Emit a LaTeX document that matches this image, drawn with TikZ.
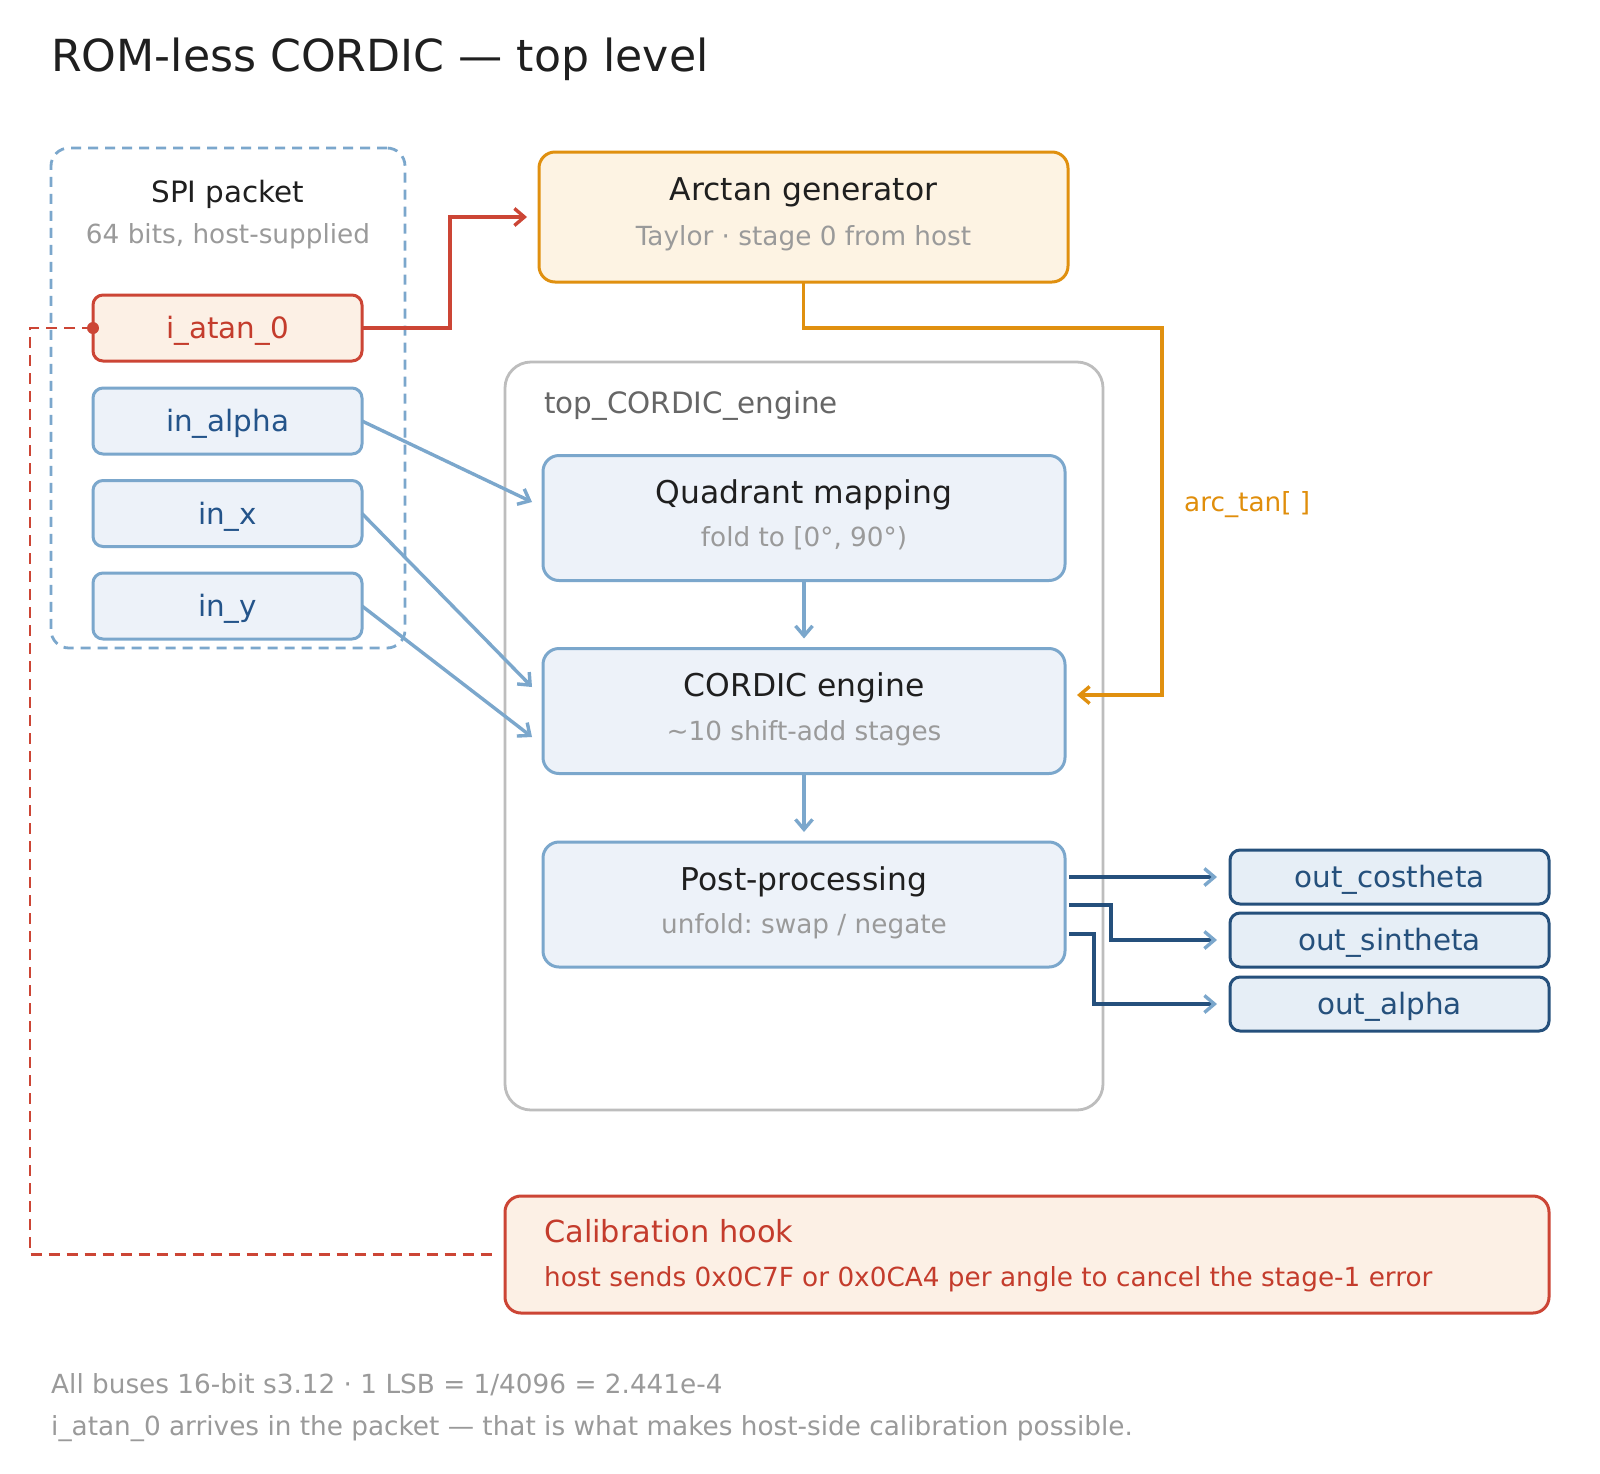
\documentclass[tikz,border=0pt]{standalone}
\usepackage{fontspec}
\setmainfont{DejaVu Sans}
\frenchspacing
\usetikzlibrary{arrows.meta}
\definecolor{bstroke}{HTML}{7BA7CC}
\definecolor{bfill}{HTML}{EDF2F9}
\definecolor{btext}{HTML}{24548A}
\definecolor{rstroke}{HTML}{CC4535}
\definecolor{rfill}{HTML}{FCF0E5}
\definecolor{rtext}{HTML}{C43C2C}
\definecolor{ostroke}{HTML}{E0900F}
\definecolor{ofill}{HTML}{FDF3E3}
\definecolor{otext}{HTML}{E08E0B}
\definecolor{dstroke}{HTML}{25507C}
\definecolor{dfill}{HTML}{E6EEF6}
\definecolor{gstroke}{HTML}{BDBDBD}
\definecolor{subgrey}{HTML}{9A9A9A}
\definecolor{ink}{HTML}{1F1F1F}
\definecolor{labgrey}{HTML}{666666}
\newcommand\fTitle{\fontsize{44.2}{50}\selectfont}
\newcommand\fHead{\fontsize{31.4}{36}\selectfont}
\newcommand\fCal{\fontsize{30.4}{36}\selectfont}
\newcommand\fLab{\fontsize{29.4}{34}\selectfont}
\newcommand\fSub{\fontsize{26.3}{32}\selectfont}
\tikzset{
  box/.style={draw, line width=3pt, rounded corners=10pt, inner sep=0pt, outer sep=0pt},
  inbox/.style={box, draw=bstroke, fill=bfill, minimum width=269pt, minimum height=66pt, text=btext, font=\fLab, text height=21.2pt, text depth=0pt},
  bigbox/.style={box, draw=bstroke, fill=bfill, rounded corners=16pt, minimum width=522pt, minimum height=125pt},
  outbox/.style={box, draw=dstroke, fill=dfill, minimum width=319pt, minimum height=54pt, text=dstroke, font=\fLab, text height=21.2pt, text depth=0pt},
  txt/.style={inner sep=0pt, text height=.72em, text depth=0pt},
  tip/.style={-{Straight Barb[length=10pt,width=17pt]}},
  bline/.style={draw=bstroke, line width=3.4pt, tip},
  rline/.style={draw=rstroke, line width=3.4pt, tip},
  oline/.style={draw=ostroke, line width=3.4pt, tip},
  dline/.style={draw=dstroke, line width=3.4pt, -{Straight Barb[length=10pt,width=17pt,color=bstroke]}},
  rdash/.style={draw=rstroke, line width=2.8pt, dash pattern=on 11pt off 7pt},
}
\begin{document}
\begin{tikzpicture}[x=1pt,y=-1pt]
\useasboundingbox[fill=white] (0,0) rectangle (1600,1473);

% title
\node[txt, anchor=base west, text=ink, font=\fTitle] (title) at (51,71) {ROM-less CORDIC — top level};

% SPI packet group
\node[box, draw=bstroke, line width=2.8pt, dash pattern=on 10pt off 7pt, rounded corners=18pt, minimum width=354pt, minimum height=500pt] (spi) at (228,398) {};
\node[txt, text=ink, font=\fLab] (spit) at (228,199) {SPI packet};
\node[txt, text=subgrey, font=\fSub] (spis) at (228,240) {64 bits, host-supplied};

\node[inbox, draw=rstroke, fill=rfill, text=rtext] (ia) at (227.5,328) {i\_atan\_0};
\node[inbox] (inalpha) at (227.5,421) {in\_alpha};
\node[inbox] (inx) at (227.5,513.5) {in\_x};
\node[inbox] (iny) at (227.5,606) {in\_y};

% Arctan generator
\node[box, draw=ostroke, fill=ofill, rounded corners=16pt, minimum width=529pt, minimum height=130pt] (arc) at (803.5,217) {};
\node[txt, text=ink, font=\fHead] (arct) at (803.5,197) {Arctan generator};
\node[txt, text=subgrey, font=\fSub] (arcs) at (803.5,242) {Taylor · stage 0 from host};

% container
\node[box, draw=gstroke, line width=2.8pt, rounded corners=26pt, minimum width=598pt, minimum height=748pt] (top) at (804,736) {};
\node[txt, anchor=west, text=labgrey, font=\fLab] (topl) at (544,410) {top\_CORDIC\_engine};

\node[bigbox] (quad) at (804,518) {};
\node[txt, text=ink, font=\fHead] (quadt) at (804,500) {Quadrant mapping};
\node[txt, text=subgrey, font=\fSub] (quads) at (804,543) {fold to [0°, 90°)};

\node[bigbox] (cord) at (804,711) {};
\node[txt, text=ink, font=\fHead] (cordt) at (804,693) {CORDIC engine};
\node[txt, text=subgrey, font=\fSub] (cords) at (804,737) {\textasciitilde10 shift-add stages};

\node[bigbox] (post) at (804,904.5) {};
\node[txt, text=ink, font=\fHead] (postt) at (804,887) {Post-processing};
\node[txt, text=subgrey, font=\fSub] (posts) at (804,930) {unfold: swap / negate};

% outputs
\node[outbox] (ocos) at (1389.5,877) {out\_costheta};
\node[outbox] (osin) at (1389.5,940) {out\_sintheta};
\node[outbox] (oalp) at (1389.5,1004) {out\_alpha};

% calibration hook
\node[box, draw=rstroke, fill=rfill, rounded corners=16pt, minimum width=1044pt, minimum height=117pt] (cal) at (1027,1254.5) {};
\node[txt, anchor=west, text=rtext, font=\fCal] (calt) at (544,1239) {Calibration hook};
\node[txt, anchor=west, text=rtext, font=\fSub] (cals) at (544,1283) {host sends 0x0C7F or 0x0CA4 per angle to cancel the stage-1 error};

% footer
\node[txt, anchor=west, text=subgrey, font=\fSub] (foot1) at (51,1390) {All buses 16-bit s3.12 · 1 LSB = 1/4096 = 2.441e-4};
\node[txt, anchor=west, text=subgrey, font=\fSub] (foot2) at (51,1432) {i\_atan\_0 arrives in the packet — that is what makes host-side calibration possible.};

% connectors
\draw[rline] (ia.east) -- ++(88,0) |- ([xshift=-12pt]arc.west);

\coordinate (arcbend) at (1162,328);
\draw[oline] (arc.south) |- (arcbend) |- ([xshift=12pt,yshift=16pt]cord.east);
\node[txt, anchor=west, text=otext, font=\fSub] (arclab) at (1184,508) {arc\_tan[ ]};

\draw[bline] (inalpha.east) -- ([xshift=-11pt,yshift=16pt]quad.west);
\draw[bline] (inx.east) -- ([xshift=-11pt,yshift=24pt]cord.west);
\draw[bline] (iny.east) -- ([xshift=-11pt,yshift=-26pt]cord.west);

\draw[bline] (quad.south) -- ([yshift=10pt]cord.north);
\draw[bline] (cord.south) -- ([yshift=10pt]post.north);

\coordinate (p1) at ([xshift=4pt,yshift=27.5pt]post.east);
\coordinate (p2) at ([xshift=4pt,yshift=-0.5pt]post.east);
\coordinate (p3) at ([xshift=4pt,yshift=-29.5pt]post.east);
\draw[dline] (p1) -- ([xshift=-13pt]ocos.west);
\draw[dline] (p2) -- ++(42,0) |- ([xshift=-13pt]osin.west);
\draw[dline] (p3) -- ++(25,0) |- ([xshift=-13pt]oalp.west);

\draw[rdash] (ia.west) -- ++(-63,0) |- ([xshift=-8pt]cal.west);
\fill[rstroke] (ia.west) circle (6pt);
\end{tikzpicture}
\end{document}
